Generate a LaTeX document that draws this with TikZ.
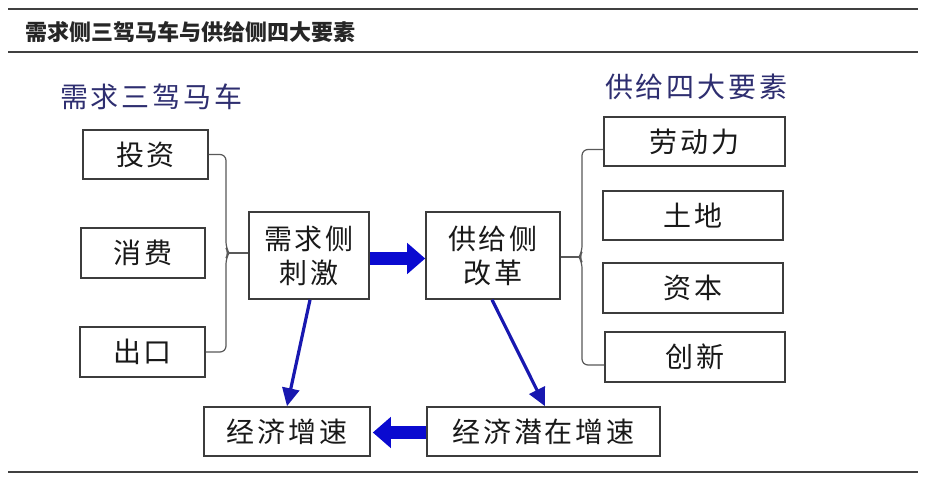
\documentclass[tikz,border=0pt]{standalone}
\usepackage{fontspec}
\newfontfamily\cjk{Noto Sans CJK SC}
\newfontfamily\cjksp[LetterSpace=10]{Noto Sans CJK SC}
\usetikzlibrary{arrows.meta,calc}
\definecolor{boxline}{HTML}{3C3C3C}
\definecolor{headcol}{HTML}{2E2E70}
\definecolor{arrblue}{HTML}{0A0AD0}
\definecolor{thinblue}{HTML}{1818B0}
\definecolor{rulecol}{HTML}{404040}
\begin{document}
\begin{tikzpicture}[x=1pt,y=1pt,
  box/.style={draw=boxline,line width=1.6pt,fill=white,inner sep=0pt,align=center,
    font=\cjksp\fontsize{28}{34}\selectfont,text=black!90},
  heading/.style={inner sep=0pt,anchor=west,font=\cjksp\fontsize{28}{34}\selectfont,text=headcol},
  brace/.style={draw=gray!70!black,line width=1.2pt,rounded corners=6pt},
  fatarrow/.style={draw=arrblue,line width=13pt,-{Triangle[length=18pt,width=30pt]}},
  thinarrow/.style={draw=thinblue,line width=3.2pt,-{Triangle[length=18pt,width=17pt]}},
  hrule/.style={draw=rulecol,line width=1.8pt}]
\useasboundingbox (0,0) rectangle (933,-487);
\fill[white] (0,0) rectangle (933,-487);
% rules and title
\coordinate (r1a) at (8,-9); \coordinate (r1b) at (918,-9);
\coordinate (r2a) at (8,-52); \coordinate (r2b) at (918,-52);
\coordinate (r3a) at (8,-472); \coordinate (r3b) at (918,-472);
\draw[hrule] (r1a) -- (r1b);
\draw[hrule] (r2a) -- (r2b);
\draw[hrule] (r3a) -- (r3b);
\node[inner sep=0pt,anchor=west,font=\cjk\bfseries\fontsize{22}{28}\selectfont,text=black!85] (title) at (25,-32) {需求侧三驾马车与供给侧四大要素};
% headings
\node[heading] (hl) at (60,-97) {需求三驾马车};
\node[heading] (hr) at (605,-87) {供给四大要素};
% boxes
\node[box,minimum width=125,minimum height=49] (tz) at (145.5,-154.5) {投资};
\node[box,minimum width=124,minimum height=50] (xf) at (143,-253) {消费};
\node[box,minimum width=125,minimum height=50] (ck) at (142.5,-352) {出口};
\node[box,minimum width=120,minimum height=87] (xq) at (309,-255.5) {需求侧\\刺激};
\node[box,minimum width=134,minimum height=87] (gj) at (493,-255.5) {供给侧\\改革};
\node[box,minimum width=181,minimum height=49] (ld) at (694.5,-141.5) {劳动力};
\node[box,minimum width=180,minimum height=49] (td) at (693,-215.5) {土地};
\node[box,minimum width=180,minimum height=50] (zb) at (693,-288) {资本};
\node[box,minimum width=180,minimum height=50] (cx) at (695,-357) {创新};
\node[box,minimum width=166,minimum height=49] (jj) at (287,-431.5) {经济增速};
\node[box,minimum width=233,minimum height=49] (qz) at (543.5,-431.5) {经济潜在增速};
% left brace
\coordinate (lb) at (226,-253);
\draw[brace] (tz.east) -| ([yshift=5pt]lb) -- ([xshift=3pt]lb) -- ([yshift=-5pt]lb) |- (ck.east);
\draw[brace,rounded corners=0pt] ([xshift=3pt]lb) -- (xq.west |- lb);
% right brace
\coordinate (rb) at (582,-257);
\draw[brace] ([yshift=-8pt]ld.west) -| ([yshift=5pt]rb) -- ([xshift=-3pt]rb) -- ([yshift=-5pt]rb) |- ([yshift=-8pt]cx.west);
\draw[brace,rounded corners=0pt] ([xshift=-3pt]rb) -- (gj.east |- rb);
% arrows
\draw[fatarrow] ([yshift=-3pt]xq.east) -- ([yshift=-3pt]gj.west);
\draw[fatarrow] ([yshift=-1pt]qz.west) -- ([xshift=2pt,yshift=-1pt]jj.east);
\draw[thinarrow] ([xshift=1pt]xq.south) -- ([xshift=0pt]jj.north);
\draw[thinarrow] ([xshift=-1pt]gj.south) -- ([xshift=1.5pt]qz.north);
\end{tikzpicture}
\end{document}
